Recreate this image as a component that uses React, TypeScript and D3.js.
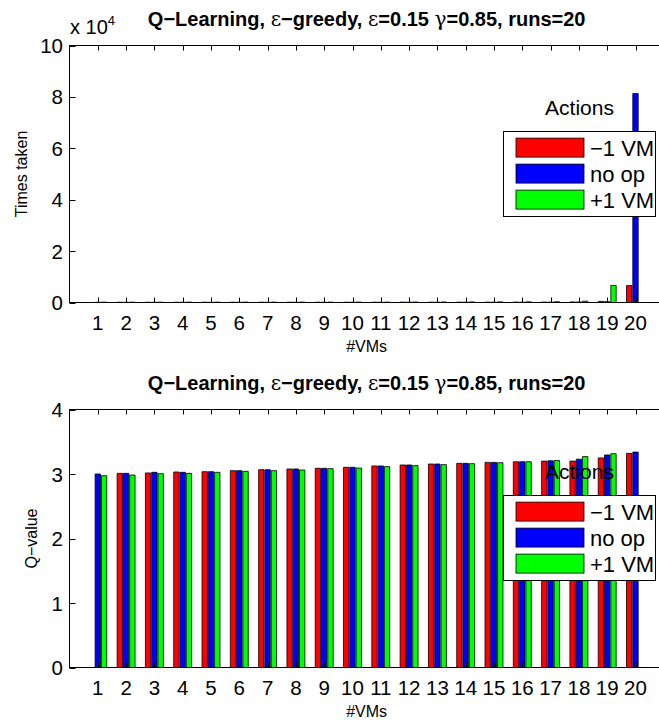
import React, { useEffect, useRef } from 'react';
import * as d3 from 'd3';

// #VMs on the x axis
const vmCounts = [1, 2, 3, 4, 5, 6, 7, 8, 9, 10, 11, 12, 13, 14, 15, 16, 17, 18, 19, 20];
const actionNames = ['\u22121 VM', 'no op', '+1 VM'];
const actionColors = ['#ff0000', '#0000ff', '#00ff00'];

// top panel: times each action was taken
const timesRemove = [0, 120, 110, 100, 130, 110, 120, 120, 110, 130, 120, 140, 130, 150, 140, 160, 180, 220, 450, 6600];
const timesNoop = [90, 80, 90, 100, 80, 90, 100, 90, 100, 110, 100, 120, 110, 130, 120, 140, 150, 190, 320, 81300];
const timesAdd = [150, 140, 130, 150, 140, 160, 150, 170, 160, 180, 170, 200, 190, 220, 230, 260, 300, 520, 6650, 0];
const timesTicks = [0, 20000, 40000, 60000, 80000, 100000];

// bottom panel: Q-values
const qRemove = [0, 3.01, 3.016, 3.031, 3.036, 3.052, 3.067, 3.078, 3.088, 3.104, 3.125, 3.14, 3.155, 3.165, 3.18, 3.19, 3.2, 3.2, 3.25, 3.32];
const qNoop = [3.0, 3.01, 3.026, 3.026, 3.036, 3.052, 3.067, 3.078, 3.088, 3.104, 3.125, 3.14, 3.155, 3.165, 3.18, 3.19, 3.205, 3.23, 3.295, 3.34];
const qAdd = [2.974, 2.984, 3.005, 3.01, 3.026, 3.041, 3.052, 3.062, 3.083, 3.093, 3.115, 3.13, 3.145, 3.16, 3.175, 3.19, 3.21, 3.27, 3.315, 0];
const qTicks = [0, 1, 2, 3, 4];

const FONT = '"Liberation Sans", Arial, Helvetica, sans-serif';
const SYM = '"DejaVu Serif", "Liberation Serif", serif';

const App = () => {
  const ref = useRef(null);

  useEffect(() => {
    const svg = d3.select(ref.current);
    svg.selectAll('*').remove();

    const x = d3.scaleLinear().domain([0, 21]).range([69.5, 663.8]);
    const offsets = [-0.2222, 0, 0.2222];
    const barW = 0.19;

    const drawPanel = (cfg) => {
      const { top, bottom, yMax, ticks, fmt, series, yLabel, yLabelX, legendTop } = cfg;
      const y = d3.scaleLinear().domain([0, yMax]).range([bottom, top]);
      const g = svg.append('g').attr('font-family', FONT);

      // bars
      series.forEach((vals, k) => {
        g.selectAll(null)
          .data(vals)
          .enter()
          .append('path')
          .attr('d', (d, i) => {
            const x0 = x(vmCounts[i] + offsets[k] - barW / 2);
            const x1 = x(vmCounts[i] + offsets[k] + barW / 2);
            const y0 = y(0);
            const y1 = y(d);
            return `M${x0},${y0}V${y1}H${x1}V${y0}Z`;
          })
          .attr('fill', actionColors[k])
          .attr('stroke', '#000')
          .attr('stroke-width', 0.8);
      });

      // box
      g.append('rect')
        .attr('x', x(0)).attr('y', top)
        .attr('width', x(21) - x(0)).attr('height', bottom - top)
        .attr('fill', 'none').attr('stroke', '#000').attr('stroke-width', 1);

      // x ticks (inside, bottom and top)
      vmCounts.forEach((v) => {
        const px = Math.round(x(v)) + 0.5;
        g.append('line').attr('x1', px).attr('x2', px).attr('y1', bottom).attr('y2', bottom - 5).attr('stroke', '#000');
        g.append('line').attr('x1', px).attr('x2', px).attr('y1', top).attr('y2', top + 5).attr('stroke', '#000');
        g.append('text')
          .attr('x', x(v)).attr('y', bottom + 27)
          .attr('text-anchor', 'middle').attr('font-size', 20.5)
          .text(v);
      });

      // y ticks
      ticks.forEach((t) => {
        const py = Math.round(y(t)) + 0.5;
        g.append('line').attr('x1', x(0)).attr('x2', x(0) + 6).attr('y1', py).attr('y2', py).attr('stroke', '#000');
        g.append('text')
          .attr('x', 63).attr('y', y(t) + 7.5)
          .attr('text-anchor', 'end').attr('font-size', 20.5)
          .text(fmt(t));
      });

      // title
      const title = g.append('text')
        .attr('x', (x(0) + x(21)) / 2).attr('y', top - 19.5)
        .attr('text-anchor', 'middle').attr('font-size', 20).attr('font-weight', 'bold');
      title.append('tspan').text('Q\u2212Learning, ');
      title.append('tspan').attr('font-family', SYM).attr('font-weight', 'normal').text('\u03b5');
      title.append('tspan').text('\u2212greedy, ');
      title.append('tspan').attr('font-family', SYM).attr('font-weight', 'normal').text('\u03b5');
      title.append('tspan').text('=0.15 ');
      title.append('tspan').attr('font-family', SYM).attr('font-weight', 'normal').text('\u03b3');
      title.append('tspan').text('=0.85, runs=20');

      // axis labels
      g.append('text')
        .attr('x', (x(0) + x(21)) / 2).attr('y', bottom + 49)
        .attr('text-anchor', 'middle').attr('font-size', 16)
        .text('#VMs');
      g.append('text')
        .attr('transform', `translate(${yLabelX},${(top + bottom) / 2}) rotate(-90)`)
        .attr('text-anchor', 'middle').attr('font-size', 16)
        .text(yLabel);

      // legend
      const lx = 503.5;
      const lw = 152;
      g.append('text')
        .attr('x', lx + lw / 2).attr('y', legendTop - 17)
        .attr('text-anchor', 'middle').attr('font-size', 21)
        .text('Actions');
      g.append('rect')
        .attr('x', lx).attr('y', legendTop)
        .attr('width', lw).attr('height', 85)
        .attr('fill', '#fff').attr('stroke', '#000').attr('stroke-width', 1);
      actionNames.forEach((name, k) => {
        const py = legendTop + 6.6 + k * 26;
        g.append('rect')
          .attr('x', 516).attr('y', py).attr('width', 68).attr('height', 19)
          .attr('fill', actionColors[k]).attr('stroke', '#000').attr('stroke-width', 0.8);
        g.append('text')
          .attr('x', 590).attr('y', py + 17.5)
          .attr('font-size', 22)
          .text(name);
      });
      return g;
    };

    const topPanel = drawPanel({
      top: 45.5,
      bottom: 302.5,
      yMax: 100000,
      ticks: timesTicks,
      fmt: (t) => String(t / 10000),
      series: [timesRemove, timesNoop, timesAdd],
      yLabel: 'Times taken',
      yLabelX: 26.5,
      legendTop: 131.5,
    });

    // exponent label
    const ex = topPanel.append('text').attr('x', 70).attr('y', 33.5).attr('font-size', 20);
    ex.append('tspan').text('x 10');
    ex.append('tspan').attr('font-size', 13).attr('dy', -9).text('4');

    drawPanel({
      top: 409.5,
      bottom: 667.5,
      yMax: 4,
      ticks: qTicks,
      fmt: (t) => String(t),
      series: [qRemove, qNoop, qAdd],
      yLabel: 'Q\u2212value',
      yLabelX: 37,
      legendTop: 495.5,
    });
  }, []);

  return (
    <svg
      ref={ref}
      width={659}
      height={723}
      style={{ position: 'absolute', left: 0, top: 0, background: '#fff' }}
    />
  );
};

export default App;
